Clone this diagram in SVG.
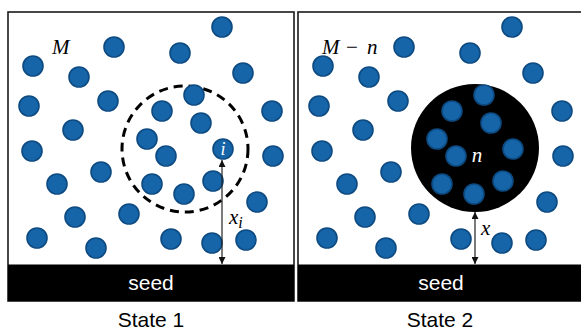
<svg xmlns="http://www.w3.org/2000/svg" xmlns:xlink="http://www.w3.org/1999/xlink" width="581" height="330" viewBox="0 0 581 330">
<style>
.frame{fill:#fff;stroke:#1a1a1a;stroke-width:1.6}
.seed{fill:#000}
.p{fill:#1565a8;stroke:#0d4a82;stroke-width:1.6}
.seedtxt{font-family:"Liberation Sans",Arial,sans-serif;font-size:21px;fill:#fff;text-anchor:middle}
.cap{font-family:"Liberation Sans",Arial,sans-serif;font-size:21px;fill:#000;text-anchor:middle}
.math{font-family:"Liberation Serif","DejaVu Serif",serif;font-style:italic;font-size:21px;fill:#000}
.dim{stroke:#222;stroke-width:1.2;fill:none}
</style>
<defs>
<marker id="ah" viewBox="0 0 10 10" refX="10" refY="5" markerWidth="7" markerHeight="7" markerUnits="userSpaceOnUse" orient="auto-start-reverse">
<path d="M0,0 L10,5 L0,10 z" fill="#111"/>
</marker>
<g id="particles">
<circle class="p" cx="222" cy="27" r="10"/>
<circle class="p" cx="114" cy="47" r="10"/>
<circle class="p" cx="180" cy="53" r="10"/>
<circle class="p" cx="33" cy="66" r="10"/>
<circle class="p" cx="79" cy="77" r="10"/>
<circle class="p" cx="243" cy="73" r="10"/>
<circle class="p" cx="29" cy="106" r="10"/>
<circle class="p" cx="108" cy="101" r="10"/>
<circle class="p" cx="194" cy="95" r="10"/>
<circle class="p" cx="162" cy="111" r="10"/>
<circle class="p" cx="201" cy="123" r="10"/>
<circle class="p" cx="272" cy="111" r="10"/>
<circle class="p" cx="73" cy="130" r="10"/>
<circle class="p" cx="147" cy="139" r="10"/>
<circle class="p" cx="32" cy="151" r="10"/>
<circle class="p" cx="223" cy="149" r="10"/>
<circle class="p" cx="166" cy="156" r="10"/>
<circle class="p" cx="273" cy="156" r="10"/>
<circle class="p" cx="101" cy="172" r="10"/>
<circle class="p" cx="57" cy="184" r="10"/>
<circle class="p" cx="152" cy="184" r="10"/>
<circle class="p" cx="184" cy="194" r="10"/>
<circle class="p" cx="213" cy="181" r="10"/>
<circle class="p" cx="257" cy="202" r="10"/>
<circle class="p" cx="75" cy="217" r="10"/>
<circle class="p" cx="129" cy="214" r="10"/>
<circle class="p" cx="37" cy="238" r="10"/>
<circle class="p" cx="96" cy="248" r="10"/>
<circle class="p" cx="171" cy="239" r="10"/>
<circle class="p" cx="212" cy="243" r="10"/>
<circle class="p" cx="246" cy="240" r="10"/>
</g>
</defs>
<rect width="581" height="330" fill="#fff"/>

<g id="state1">
<rect class="frame" x="8" y="12" width="286" height="289"/>
<rect class="seed" x="8" y="264.5" width="286" height="36.5"/>
<text class="seedtxt" x="151" y="290">seed</text>
<circle cx="185" cy="149" r="63" fill="none" stroke="#000" stroke-width="3" stroke-dasharray="9 6"/>
<use xlink:href="#particles"/>
<text x="223" y="155" font-family="Liberation Serif, DejaVu Serif, serif" font-style="italic" font-size="18" fill="#fff" text-anchor="middle">i</text>
<text class="math" x="52" y="54">M</text>
<text class="math" x="229" y="224" font-size="23">x<tspan font-size="16" dy="4">i</tspan></text>
<text class="cap" x="151" y="327">State 1</text>
</g>

<g id="state2">
<rect class="frame" x="298" y="12" width="286" height="289"/>
<rect class="seed" x="298" y="264.5" width="286" height="36.5"/>
<text class="seedtxt" x="441" y="290">seed</text>
<circle cx="475" cy="148" r="64" fill="#000"/>
<use xlink:href="#particles" transform="translate(290,0)"/>
<text x="477" y="162" font-family="Liberation Serif, DejaVu Serif, serif" font-style="italic" font-size="21" fill="#fff" text-anchor="middle">n</text>
<text class="math" x="322" y="54">M</text>
<text x="346" y="54" font-family="Liberation Serif, DejaVu Serif, serif" font-size="21" fill="#000">−</text>
<text class="math" x="367" y="54">n</text>
<text class="math" x="481" y="235" font-size="23">x</text>
<text class="cap" x="440" y="327">State 2</text>
</g>

<g id="connectors">
<line class="dim" x1="222" y1="160" x2="222" y2="264" marker-start="url(#ah)" marker-end="url(#ah)"/>
<line class="dim" x1="475" y1="212" x2="475" y2="264" marker-start="url(#ah)" marker-end="url(#ah)"/>
</g>
</svg>
